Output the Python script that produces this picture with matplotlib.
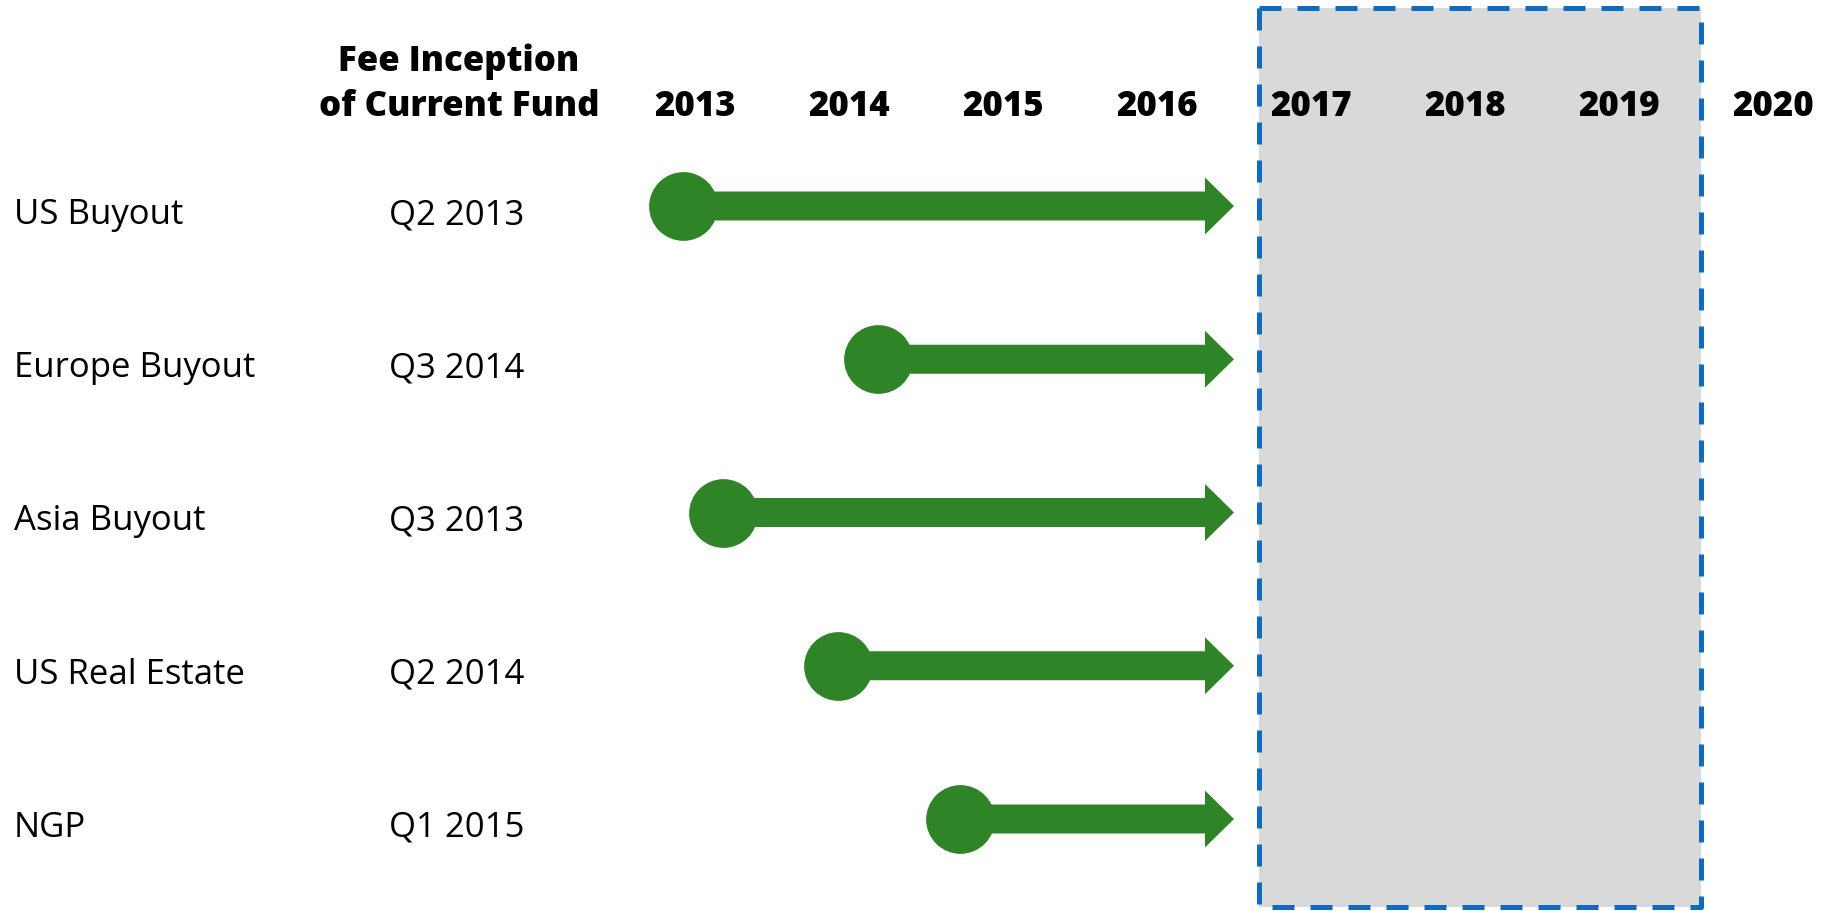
import matplotlib.pyplot as plt

# data
funds = ["US Buyout", "Europe Buyout", "Asia Buyout", "US Real Estate", "NGP"]
inception_labels = ["Q2 2013", "Q3 2014", "Q3 2013", "Q2 2014", "Q1 2015"]
inception_pos = [2013.42, 2014.69, 2013.68, 2014.43, 2015.22]  # decimal years
arrow_end = 2017.0
years = [2013, 2014, 2015, 2016, 2017, 2018, 2019, 2020]
box_start, box_end = 2017.16, 2020.03

W, H = 1831, 912
green = "#2E8427"
blue = "#0F6CBD"
gray = "#D9D9D9"
font = "Open Sans"

fig = plt.figure(figsize=(W / 100, H / 100), dpi=100)
ax = fig.add_axes([0, 0, 1, 1])
ax.set_xlim(2013.5 - 695 / 154, 2013.5 + (W - 695) / 154)
ax.set_ylim((H - 207) / 153.25, -207 / 153.25)
ax.axis("off")

# shaded period with dashed border
y0, y1 = 1 - 908 / H, 1 - 9 / H
ax.axvspan(box_start, box_end, ymin=y0, ymax=y1, facecolor=gray,
           edgecolor="none", zorder=1)
ax.plot([box_start, box_end, box_end, box_start, box_start],
        [y1, y1, y0, y0, y1], color=blue, linewidth=3.6,
        dashes=(4.4, 3.2), transform=ax.get_xaxis_transform(), zorder=2)


def fig_xy(x, y):
    # pixel position (from top left) to figure fraction
    return x / W, 1 - y / H


# arrows and start dots
for i, start in enumerate(inception_pos):
    ax.arrow(start, i, arrow_end - start, 0, width=29 / 153.25,
             head_width=57 / 153.25, head_length=29 / 154,
             length_includes_head=True, color=green, linewidth=0, zorder=3)
    ax.scatter(start, i, s=2450, color=green, linewidths=0, zorder=4)

    row_px = 207 + 153.25 * i
    fig.text(*fig_xy(14, row_px + 17), funds[i], fontsize=25,
             family=font, va="baseline", ha="left")
    fig.text(*fig_xy(389, row_px + 17), inception_labels[i], fontsize=25,
             family=font, va="baseline", ha="left")

# header row
fig.text(*fig_xy(459, 71), "Fee Inception", fontsize=25, family=font,
         fontweight=800, ha="center", va="baseline")
fig.text(*fig_xy(459, 116), "of Current Fund", fontsize=25, family=font,
         fontweight=800, ha="center", va="baseline")
for yr in years:
    ax.text(yr + 0.5, 1 - 116 / H, str(yr), fontsize=25, family=font,
            fontweight=800, ha="center", va="baseline", zorder=5,
            transform=ax.get_xaxis_transform())

fig.savefig("out.png", dpi=100)
